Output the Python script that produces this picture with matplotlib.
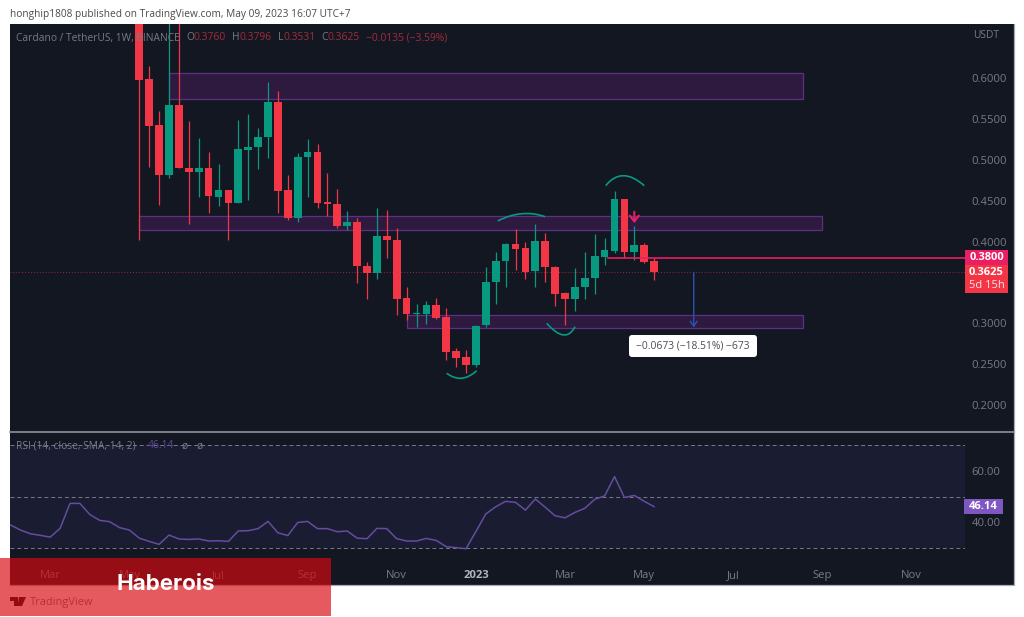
import numpy as np
import pandas as pd
import matplotlib
matplotlib.use('Agg')
import matplotlib.pyplot as plt
from matplotlib.patches import Rectangle, PathPatch, Polygon, FancyBboxPatch
from matplotlib.path import Path

plt.rcParams['font.family'] = ['Open Sans', 'DejaVu Sans']

# weekly candles, first one is the week of 2022-05-09
first_week = pd.Timestamp('2022-05-09')
opens = [0.7000, 0.5988, 0.5425, 0.4814, 0.5670, 0.4900, 0.4851, 0.4900, 0.4545, 0.4631,
         0.4472, 0.5120, 0.5156, 0.5279, 0.5707, 0.4631, 0.4289, 0.5034, 0.5095, 0.4484,
         0.4460, 0.4194, 0.4236, 0.3702, 0.3620, 0.4065, 0.4023, 0.3307, 0.3115, 0.3118,
         0.3225, 0.3078, 0.2659, 0.2586, 0.2491, 0.2977, 0.3506, 0.3763, 0.3974, 0.3922,
         0.3637, 0.4004, 0.3693, 0.3372, 0.3295, 0.3445, 0.3551, 0.3812, 0.3889, 0.4517,
         0.3876, 0.3955, 0.3760]
highs = [0.7200, 0.6147, 0.5597, 0.7000, 0.6900, 0.5474, 0.5266, 0.5095, 0.4949, 0.4631,
         0.5487, 0.5560, 0.5389, 0.5951, 0.5841, 0.4814, 0.5083, 0.5254, 0.5193, 0.4839,
         0.4643, 0.4378, 0.4289, 0.3754, 0.4407, 0.4386, 0.4163, 0.3449, 0.3233, 0.3277,
         0.3307, 0.3192, 0.2696, 0.2675, 0.2980, 0.3693, 0.3876, 0.3979, 0.4150, 0.3999,
         0.4215, 0.4101, 0.3702, 0.3388, 0.3674, 0.3876, 0.4089, 0.4048, 0.4619, 0.4517,
         0.4191, 0.3987, 0.3796]
lows = [0.4020, 0.4912, 0.4447, 0.4778, 0.4900, 0.4215, 0.4545, 0.4350, 0.4435, 0.4020,
        0.4472, 0.4509, 0.4888, 0.5022, 0.4350, 0.4264, 0.4240, 0.4545, 0.4411, 0.4313,
        0.4166, 0.4142, 0.3490, 0.3298, 0.3539, 0.3796, 0.3103, 0.3042, 0.2960, 0.2993,
        0.3050, 0.2553, 0.2471, 0.2390, 0.2471, 0.2952, 0.3237, 0.3449, 0.3653, 0.3539,
        0.3449, 0.3510, 0.3216, 0.2980, 0.3155, 0.3295, 0.3359, 0.3714, 0.3857, 0.3796,
        0.3775, 0.3742, 0.3531]
closes = [0.5976, 0.5413, 0.4814, 0.5670, 0.4900, 0.4851, 0.4900, 0.4557, 0.4631, 0.4472,
          0.5132, 0.5156, 0.5279, 0.5707, 0.4619, 0.4289, 0.5034, 0.5095, 0.4472, 0.4460,
          0.4187, 0.4236, 0.3698, 0.3620, 0.4065, 0.4023, 0.3298, 0.3111, 0.3123, 0.3225,
          0.3070, 0.2650, 0.2581, 0.2495, 0.2972, 0.3510, 0.3763, 0.3974, 0.3913, 0.3632,
          0.4004, 0.3689, 0.3363, 0.3298, 0.3449, 0.3555, 0.3820, 0.3894, 0.4517, 0.3876,
          0.3955, 0.3754, 0.3625]

# RSI starts 13 weeks before the first candle above
rsi = [39.0, 37.05, 35.6, 35.0, 34.3, 37.7, 47.4, 47.4, 43.1, 40.8, 40.3, 38.0, 37.05, 33.9,
       32.65, 31.5, 35.1, 33.6, 33.4, 33.6, 32.8, 32.9, 32.65, 36.7, 36.8, 37.6, 40.4, 36.0,
       34.9, 40.0, 40.4, 37.6, 37.6, 36.4, 36.7, 33.9, 33.7, 37.7, 37.6, 33.7, 32.8, 32.8,
       33.8, 33.0, 30.6, 30.2, 29.8, 36.5, 43.3, 46.1, 48.2, 47.8, 44.8, 49.1, 45.9, 42.6,
       41.8, 43.9, 45.5, 49.0, 50.3, 57.8, 49.7, 50.5, 48.2, 46.14]
rsi_lead = 13

price_ticks = [0.20, 0.25, 0.30, 0.40, 0.45, 0.50, 0.55, 0.60]
rsi_ticks = [40, 60]
tick_dates = ['2022-03-07', '2022-05-02', '2022-07-04', '2022-09-05', '2022-11-07', '2023-01-02',
              '2023-03-06', '2023-05-01', '2023-07-03', '2023-09-04', '2023-11-06']
tick_names = ['Mar', 'May', 'Jul', 'Sep', 'Nov', '2023', 'Mar', 'May', 'Jul', 'Sep', 'Nov']

# drawn boxes: first week, last week, top price, bottom price
zones = [(3.05, 67.0, 0.6067, 0.5737),
         (0.0, 69.0, 0.4313, 0.4142),
         (27.0, 67.0, 0.3103, 0.2947)]

# hand drawn arcs: start, middle, end as (week, price)
arcs = [[(31.05, 0.2390), (32.56, 0.2329), (34.08, 0.2422)],
        [(36.2, 0.4252), (38.63, 0.4341), (40.98, 0.4304)],
        [(41.15, 0.3001), (42.83, 0.2858), (44.01, 0.2960)],
        [(47.11, 0.4683), (48.89, 0.4806), (51.01, 0.4683)]]

BG = '#131722'
UP = '#089981'
DOWN = '#f23645'
GREY = '#787b86'
PINK = '#e91e63'
LABEL_SIZE = 8.1


def px_axes(fig, left, top, right, bottom, **kw):
    return fig.add_axes([left / 1024, 1 - bottom / 617, (right - left) / 1024, (bottom - top) / 617], **kw)


def draw_candles(ax):
    for i in range(len(opens)):
        color = UP if closes[i] >= opens[i] else DOWN
        ax.vlines(i, lows[i], highs[i], color=color, lw=0.9, zorder=3)
        low = min(opens[i], closes[i])
        height = max(abs(closes[i] - opens[i]), 0.0006)
        ax.add_patch(Rectangle((i - 0.39, low), 0.78, height, facecolor=color, edgecolor='none', zorder=4))


fig = plt.figure(figsize=(10.24, 6.17), dpi=100, facecolor='white')

# pixel layer under everything
back = px_axes(fig, 0, 0, 1024, 617, zorder=0)
back.set_xlim(0, 1024)
back.set_ylim(617, 0)
back.axis('off')
back.add_patch(Rectangle((10, 24), 1004, 561, facecolor=BG, edgecolor='none'))
back.plot([1014, 1014, 10], [24, 585, 585], color='#a9acb5', lw=0.9)
back.plot([10, 1014], [432, 432], color='#8f929c', lw=1.2)
back.text(10, 14, 'honghip1808 published on TradingView.com, May 09, 2023 16:07 UTC+7',
          color='#4a4a4a', fontsize=7.3, va='center')

# logo and name under the red band
back.add_patch(Polygon([(10, 597), (18, 597), (18, 606), (14, 606), (14, 601), (10, 601)], facecolor='#111111'))
back.add_patch(Polygon([(19, 597), (26, 597), (22, 606), (17.5, 606)], facecolor='#111111'))
back.text(30, 602, 'TradingView', color=GREY, fontsize=7.9, va='center')

# price panel
ax = px_axes(fig, 10, 24, 965, 432, zorder=1)
ax.set_facecolor('none')
ax.set_xlim(-13.06, 83.4)
ax.set_ylim(0.1672, 0.666)
for side in ax.spines.values():
    side.set_visible(False)
ax.set_xticks([])
ax.yaxis.tick_right()
ax.set_yticks(price_ticks)
ax.set_yticklabels(['%.4f' % p for p in price_ticks], color=GREY, fontsize=LABEL_SIZE)
ax.tick_params(axis='y', length=0, pad=4.5)

for z in zones:
    ax.add_patch(Rectangle((z[0], z[3]), z[1] - z[0], z[2] - z[3], facecolor='#9c27b0', alpha=0.2,
                           edgecolor='none', zorder=1))
    ax.add_patch(Rectangle((z[0], z[3]), z[1] - z[0], z[2] - z[3], facecolor='none',
                           edgecolor='#5e2f86', lw=0.9, zorder=2))

draw_candles(ax)

ax.plot([-13.06, 83.4], [closes[-1], closes[-1]], color=DOWN, lw=0.7, ls=(0, (1, 2)), alpha=0.6, zorder=2)
ax.plot([47.3, 83.4], [0.38, 0.38], color=PINK, lw=1.2, zorder=5)

for a in arcs:
    start, mid, end = np.array(a[0]), np.array(a[1]), np.array(a[2])
    ctrl = 2 * mid - (start + end) / 2
    path = Path([start, ctrl, end], [Path.MOVETO, Path.CURVE3, Path.CURVE3])
    ax.add_patch(PathPatch(path, facecolor='none', edgecolor=UP, lw=1.2, zorder=6))

ax.annotate('', xy=(50.0, 0.4225), xytext=(50.0, 0.4365),
            arrowprops=dict(arrowstyle='->,head_width=0.32,head_length=0.42', color=PINK, lw=1.5,
                            shrinkA=0, shrinkB=0), zorder=6)
ax.annotate('', xy=(56, 0.2952), xytext=(56, closes[-1]),
            arrowprops=dict(arrowstyle='->,head_width=0.25,head_length=0.35', color='#2a52b5', lw=1,
                            shrinkA=0, shrinkB=0), zorder=6)

# RSI panel
ax2 = px_axes(fig, 10, 433, 965, 560, zorder=1)
ax2.set_facecolor('none')
ax2.set_xlim(-13.06, 83.4)
ax2.set_ylim(25.42, 74.74)
for side in ax2.spines.values():
    side.set_visible(False)
ax2.axhspan(30, 70, facecolor='#1a1c31', edgecolor='none', zorder=1)
for level in [30, 50, 70]:
    ax2.axhline(level, color='#787b86', lw=0.7, ls=(0, (4, 3)), zorder=2)
ax2.plot(np.arange(len(rsi)) - rsi_lead, rsi, color='#644c9f', lw=1.1, zorder=3)
ax2.yaxis.tick_right()
ax2.set_yticks(rsi_ticks)
ax2.set_yticklabels(['%.2f' % r for r in rsi_ticks], color=GREY, fontsize=LABEL_SIZE)
ax2.tick_params(axis='y', length=0, pad=4.5)

tick_x = (pd.to_datetime(tick_dates) - first_week).days / 7
ax2.set_xticks(tick_x)
ax2.set_xticklabels(tick_names, color=GREY, fontsize=LABEL_SIZE)
ax2.tick_params(axis='x', length=0, pad=7)
for label in ax2.get_xticklabels():
    if label.get_text() == '2023':
        label.set_fontweight('bold')
        label.set_color('#b2b5be')

# pixel layer on top: labels and the red band
front = px_axes(fig, 0, 0, 1024, 617, zorder=5)
front.set_xlim(0, 1024)
front.set_ylim(617, 0)
front.axis('off')
front.patch.set_alpha(0)

front.text(16, 38, 'Cardano / TetherUS, 1W, BINANCE', color=GREY, fontsize=7.4, va='center')
legend_parts = [(186, 'O', GREY), (193, '0.3760', '#a32b3a'), (232, 'H', GREY), (239, '0.3796', '#a32b3a'),
                (278, 'L', GREY), (284, '0.3531', '#a32b3a'), (321, 'C', GREY), (328, '0.3625', '#a32b3a'),
                (366, '\u22120.0135 (\u22123.59%)', '#a32b3a')]
for x_pos, part, col in legend_parts:
    front.text(x_pos, 38, part, color=col, fontsize=7.4, va='center')
front.text(986, 36, 'USDT', color=GREY, fontsize=7.4, ha='center', va='center')

rsi_parts = [(16, 'RSI (14, close, SMA, 14, 2)', GREY), (148, '46.14', '#5f4a9b'),
             (181, '\u00f8', GREY), (196, '\u00f8', GREY)]
for x_pos, part, col in rsi_parts:
    front.text(x_pos, 446, part, color=col, fontsize=7.4, va='center')

front.add_patch(Rectangle((965, 250), 43, 15, facecolor=PINK, edgecolor='none'))
front.add_patch(Rectangle((965, 265), 43, 28, facecolor=DOWN, edgecolor='none'))
front.text(986.5, 257.5, '0.3800', color='white', fontsize=8, fontweight='bold', ha='center', va='center')
front.text(986.5, 272.5, '0.3625', color='white', fontsize=8, fontweight='bold', ha='center', va='center')
front.text(986.5, 285.5, '5d 15h', color='#ffe3e6', fontsize=8, ha='center', va='center')

front.add_patch(Rectangle((964, 499), 39, 15, facecolor='#7e57c2', edgecolor='none'))
front.text(983.5, 506.5, '46.14', color='white', fontsize=8, fontweight='bold', ha='center', va='center')

front.add_patch(FancyBboxPatch((631, 337), 124, 18, boxstyle='round,pad=2,rounding_size=3',
                               facecolor='white', edgecolor='none'))
front.text(693, 346, '\u22120.0673 (\u221218.51%) \u2212673', color='#4a4d57', fontsize=7.4,
           ha='center', va='center')

front.add_patch(Rectangle((0, 558), 331, 58, facecolor='#d80910', alpha=0.67, edgecolor='none'))
front.text(117, 583.5, 'Haberois', color='white', fontsize=16.1, fontweight='bold', family='Inter', va='center')

fig.savefig('out.png', dpi=100)
